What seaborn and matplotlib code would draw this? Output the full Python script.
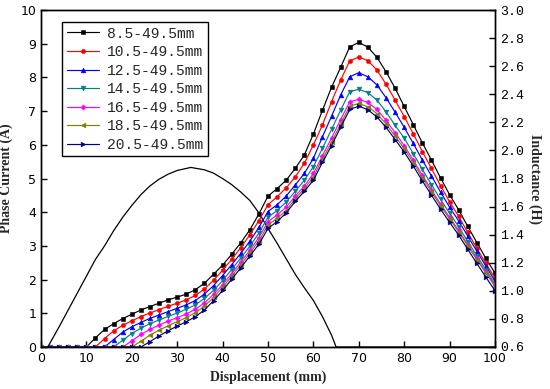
import matplotlib
matplotlib.use("Agg")
import matplotlib.pyplot as plt
import matplotlib.ticker as mticker
import seaborn as sns

# ── Data ──────────────────────────────────────────────────────────────────────
# displacement (mm), one point every 2 mm
disp = list(range(0, 101, 2))

# inductance curves (H) for each winding range
L_8_5 = [0.6] * 6 + [0.665, 0.725, 0.766, 0.802, 0.833, 0.864, 0.888, 0.912, 0.936, 0.955,
                     0.977, 1.008, 1.054, 1.118, 1.183, 1.26, 1.342, 1.435, 1.548, 1.675,
                     1.728, 1.788, 1.872, 1.968, 2.117, 2.287, 2.45, 2.592, 2.738, 2.77,
                     2.736, 2.664, 2.561, 2.443, 2.314, 2.184, 2.054, 1.932, 1.805, 1.685,
                     1.577, 1.459, 1.344, 1.231, 1.126]
L_10_5 = [0.6] * 7 + [0.66, 0.715, 0.754, 0.787, 0.816, 0.842, 0.866, 0.89, 0.912, 0.936,
                      0.967, 1.013, 1.075, 1.147, 1.224, 1.308, 1.399, 1.5, 1.613, 1.67,
                      1.733, 1.812, 1.908, 2.04, 2.182, 2.347, 2.501, 2.638, 2.666, 2.64,
                      2.573, 2.472, 2.359, 2.242, 2.119, 1.992, 1.872, 1.75, 1.634, 1.531,
                      1.416, 1.303, 1.195, 1.09]
L_12_5 = [0.6] * 8 + [0.653, 0.706, 0.744, 0.775, 0.804, 0.828, 0.852, 0.876, 0.9, 0.931,
                      0.977, 1.037, 1.109, 1.186, 1.267, 1.354, 1.452, 1.565, 1.613, 1.675,
                      1.754, 1.836, 1.944, 2.098, 2.244, 2.395, 2.525, 2.554, 2.525, 2.467,
                      2.376, 2.273, 2.165, 2.05, 1.932, 1.819, 1.704, 1.596, 1.498, 1.39,
                      1.282, 1.176, 1.07]
L_14_5 = [0.6] * 9 + [0.648, 0.696, 0.734, 0.766, 0.792, 0.818, 0.842, 0.869, 0.9, 0.946,
                      1.003, 1.073, 1.152, 1.234, 1.318, 1.411, 1.524, 1.572, 1.632, 1.709,
                      1.788, 1.884, 2.016, 2.15, 2.287, 2.419, 2.436, 2.412, 2.359, 2.275,
                      2.179, 2.088, 1.978, 1.865, 1.757, 1.651, 1.553, 1.457, 1.351, 1.25,
                      1.15, 1.051]
L_16_5 = [0.6] * 10 + [0.643, 0.689, 0.725, 0.756, 0.785, 0.809, 0.835, 0.869, 0.914, 0.974,
                       1.044, 1.123, 1.205, 1.289, 1.38, 1.493, 1.541, 1.596, 1.675, 1.747,
                       1.836, 1.963, 2.088, 2.22, 2.347, 2.364, 2.342, 2.292, 2.215, 2.126,
                       2.035, 1.932, 1.824, 1.721, 1.618, 1.524, 1.43, 1.33, 1.231, 1.135,
                       1.039]
L_18_5 = [0.6] * 11 + [0.641, 0.684, 0.72, 0.751, 0.78, 0.809, 0.845, 0.89, 0.953, 1.025,
                       1.104, 1.186, 1.27, 1.356, 1.469, 1.517, 1.572, 1.656, 1.728, 1.812,
                       1.939, 2.059, 2.189, 2.316, 2.335, 2.311, 2.263, 2.189, 2.102, 2.014,
                       1.913, 1.807, 1.706, 1.606, 1.512, 1.421, 1.32, 1.222, 1.126, 1.03]
L_20_5 = [0.6] * 12 + [0.638, 0.679, 0.715, 0.749, 0.78, 0.816, 0.864, 0.929, 1.003, 1.082,
                       1.164, 1.248, 1.332, 1.445, 1.493, 1.555, 1.637, 1.709, 1.788, 1.915,
                       2.035, 2.165, 2.292, 2.316, 2.29, 2.239, 2.165, 2.078, 1.99, 1.889,
                       1.783, 1.682, 1.582, 1.488, 1.397, 1.296, 1.195, 1.097, 1.001]

series_labels = ["8.5-49.5mm", "10.5-49.5mm", "12.5-49.5mm", "14.5-49.5mm",
                 "16.5-49.5mm", "18.5-49.5mm", "20.5-49.5mm"]

# phase current (A)
pc_x = [0, 1.5, 4, 6, 8, 10, 12, 14, 16, 18, 20, 22, 24, 26, 28, 30, 33, 36, 38, 40,
        42, 44, 46, 48, 50, 52, 54, 56, 58, 60, 62, 64, 65, 100]
pc_y = [0, 0, 0.6, 1.1, 1.6, 2.1, 2.6, 3.0, 3.45, 3.85, 4.2, 4.52, 4.78, 4.98, 5.13, 5.24,
        5.33, 5.26, 5.16, 5.0, 4.82, 4.6, 4.35, 3.98, 3.52, 3.08, 2.62, 2.16, 1.76, 1.38,
        0.9, 0.35, 0, 0]

# ── Style ─────────────────────────────────────────────────────────────────────
sns.set_theme(style="ticks")
plt.rcParams['font.family'] = ['DejaVu Sans']

colors = ['#000000', '#ff0000', '#0000ff', '#008080', '#ff00ff', '#808000', '#000080']
markers = ['s', 'o', '^', 'v', 'D', '<', '>']
msizes = [2.6, 3.0, 3.4, 3.4, 2.6, 3.4, 3.4]
curves = [L_8_5, L_10_5, L_12_5, L_14_5, L_16_5, L_18_5, L_20_5]

fig, ax = plt.subplots(figsize=(5.5, 3.89), dpi=100)
fig.subplots_adjust(left=0.0745, right=0.9, bottom=0.108, top=0.974)
ax2 = ax.twinx()

# phase current on left axis
sns.lineplot(x=pc_x, y=pc_y, ax=ax, color='black', linewidth=0.9, legend=False)

# inductance curves on right axis
for vals, lab, c, m, ms in zip(curves, series_labels, colors, markers, msizes):
    sns.lineplot(x=disp, y=vals, ax=ax2, color=c, marker=m, markersize=ms,
                 markeredgecolor=c, markeredgewidth=0.4, linewidth=0.85, label=lab)

ax.set_xlim(0, 100)
ax.set_ylim(0, 10)
ax2.set_ylim(0.6, 3.0)
ax.xaxis.set_major_locator(mticker.MultipleLocator(10))
ax.yaxis.set_major_locator(mticker.MultipleLocator(1))
ax2.yaxis.set_major_locator(mticker.MultipleLocator(0.2))
ax2.yaxis.set_major_formatter(mticker.FormatStrFormatter('%.1f'))

for a in (ax, ax2):
    for s in a.spines.values():
        s.set_visible(True)
        s.set_color('black')
        s.set_linewidth(1.0)
ax.tick_params(axis='both', direction='in', length=4, width=1, labelsize=9,
               colors='black', top=False, right=False)
ax2.tick_params(axis='y', direction='in', length=4, width=1, labelsize=9.5,
                colors='black')
for t in ax2.get_yticklabels():
    t.set_family('Liberation Mono')

ax.set_xlabel('Displacement (mm)', fontsize=10, fontweight='bold',
              family='Liberation Serif', labelpad=4)
ax.set_ylabel('Phase Current (A)', fontsize=10, fontweight='bold',
              family='Liberation Serif', labelpad=5)
ax2.set_ylabel('Inductance (H)', fontsize=10, fontweight='bold',
               family='Liberation Serif', rotation=270, labelpad=13)

leg = ax2.legend(loc='upper left', bbox_to_anchor=(0.046, 0.965), borderaxespad=0,
                 frameon=True, fancybox=False, edgecolor='black', framealpha=1,
                 prop={'family': 'Liberation Mono', 'size': 10.5},
                 handlelength=2.2, labelspacing=0.31, borderpad=0.32, handletextpad=0.6)
leg.get_frame().set_linewidth(1.0)

plt.savefig('out.png', dpi=100)
plt.close()
